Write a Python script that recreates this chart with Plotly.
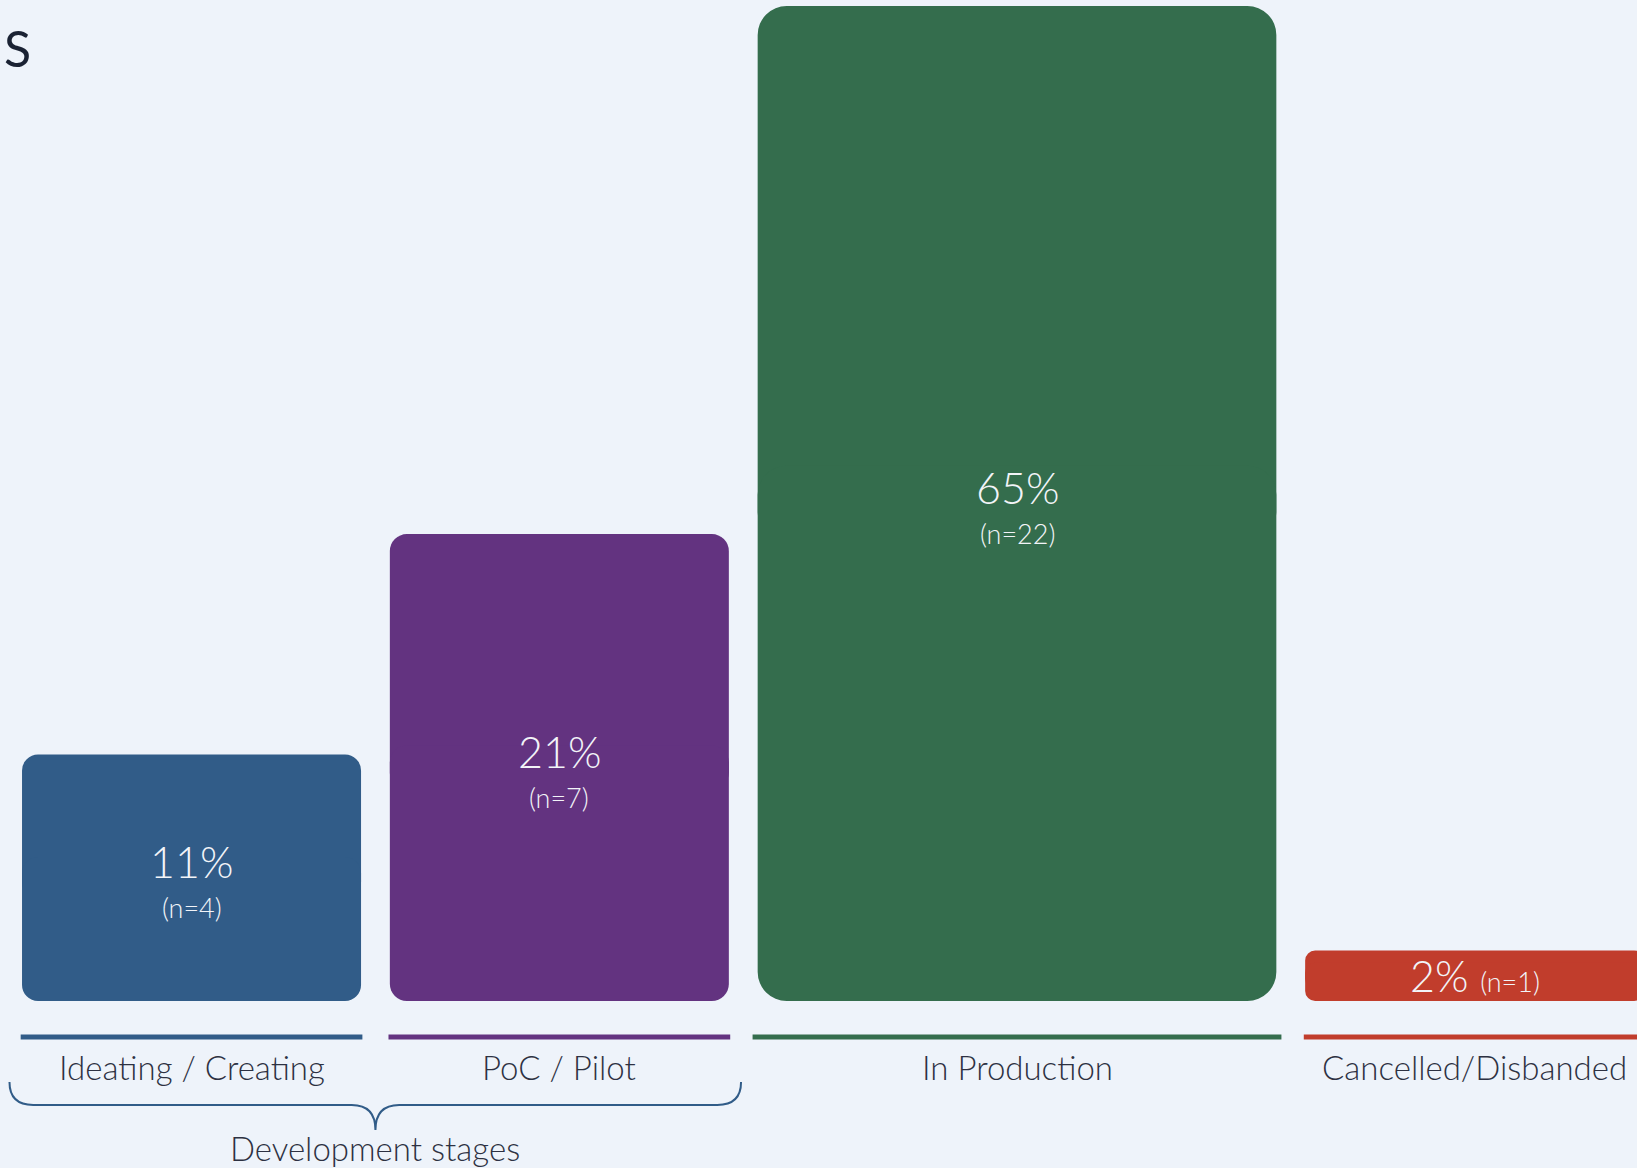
import plotly.graph_objects as go

# data
stages = ["Ideating / Creating", "PoC / Pilot", "In Production", "Cancelled/Disbanded"]
pct = [11, 21, 65, 2]
n = [4, 7, 22, 1]
# heights of the bars as drawn (the big bar is not drawn to scale)
bar_height = [16.1, 30.5, 65, 3.3]

colors = ["#315c88", "#633380", "#346d4d", "#c13d2c"]
radius = [16, 17, 29, 10]   # corner radius in px
widths = [1.0, 1.0, 1.53, 1.0]
gap = 0.085
start = 0.065

BG = "#eef3fa"
TXT = "#2d3142"
FONT = "Lato"
PX_PER_Y = 1168 / (65.39 + 10.91)

# bar positions, left to right
lefts = []
x = start
for w in widths:
    lefts.append(x)
    x += w + gap
centers = [l + w / 2 for l, w in zip(lefts, widths)]

fig = go.Figure()

for i in range(len(stages)):
    h = bar_height[i]
    ov = 1.3 * radius[i] / PX_PER_Y
    # upper half (rounded top) and lower half (rounded bottom), overlapping in the middle
    fig.add_trace(go.Bar(x=[centers[i]], y=[h / 2 + ov], base=[h / 2 - ov], width=[widths[i]],
                         marker=dict(color=colors[i], line_width=0, cornerradius=radius[i]),
                         showlegend=False, hoverinfo="skip"))
    fig.add_trace(go.Bar(x=[centers[i]], y=[-(h / 2 + ov)], base=[h / 2 + ov], width=[widths[i]],
                         marker=dict(color=colors[i], line_width=0, cornerradius=radius[i]),
                         showlegend=False, hoverinfo="skip"))

    if h > 10:
        fig.add_annotation(x=centers[i], y=h / 2, text=f"{pct[i]}%", showarrow=False, yshift=16,
                           font=dict(family=FONT, size=43, color="#f2f4f8", weight=300))
        fig.add_annotation(x=centers[i], y=h / 2, text=f"(n={n[i]})", showarrow=False, yshift=-30,
                           font=dict(family=FONT, size=27, color="#f2f4f8", weight=300))
    else:
        fig.add_annotation(x=centers[i], y=h / 2,
                           text=f"{pct[i]}% <span style='font-size:27px'>(n={n[i]})</span>",
                           showarrow=False,
                           font=dict(family=FONT, size=43, color="#f2f4f8", weight=300))

    # coloured underline and category label
    pad = 0.015 if widths[i] > 1.2 else 0.004
    fig.add_shape(type="line", xref="x", yref="y", x0=lefts[i] - pad, x1=lefts[i] + widths[i] + pad,
                  y0=-2.35, y1=-2.35, line=dict(color=colors[i], width=5))
    fig.add_annotation(x=centers[i], y=-4.31, text=stages[i], showarrow=False,
                       font=dict(family=FONT, size=33, color=TXT, weight=300))

# brace under the two development stages
xl = lefts[0] - 0.037
xr = lefts[1] + widths[1] + 0.036
xc = (lefts[0] + lefts[1] + widths[1]) / 2
dx = 0.07
yt, ym, yb = -5.29, -6.79, -8.43
path = (f"M {xl},{yt} Q {xl},{ym} {xl + dx},{ym} L {xc - dx},{ym} Q {xc},{ym} {xc},{yb} "
        f"Q {xc},{ym} {xc + dx},{ym} L {xr - dx},{ym} Q {xr},{ym} {xr},{yt}")
fig.add_shape(type="path", xref="x", yref="y", path=path, line=dict(color="#315c88", width=2))
fig.add_annotation(x=xc, y=-9.6, text="Development stages", showarrow=False,
                   font=dict(family=FONT, size=33, color=TXT, weight=300))

# truncated title at the top left
fig.add_annotation(xref="paper", yref="paper", x=0.0, y=1.0, xanchor="left", yanchor="top",
                   text="S", showarrow=False, xshift=2, yshift=-16,
                   font=dict(family=FONT, size=50, color="#1a2233"))

fig.update_layout(
    width=1637, height=1168,
    margin=dict(l=0, r=0, t=0, b=0),
    paper_bgcolor=BG, plot_bgcolor=BG,
    barmode="overlay",
    xaxis=dict(range=[0, 1637 / 339], visible=False, fixedrange=True),
    yaxis=dict(range=[-10.91, 65.39], visible=False, fixedrange=True),
    hovermode=False,
)

fig.write_html("out.html", config={"displayModeBar": False},
               post_script="document.body.style.margin='0';")
